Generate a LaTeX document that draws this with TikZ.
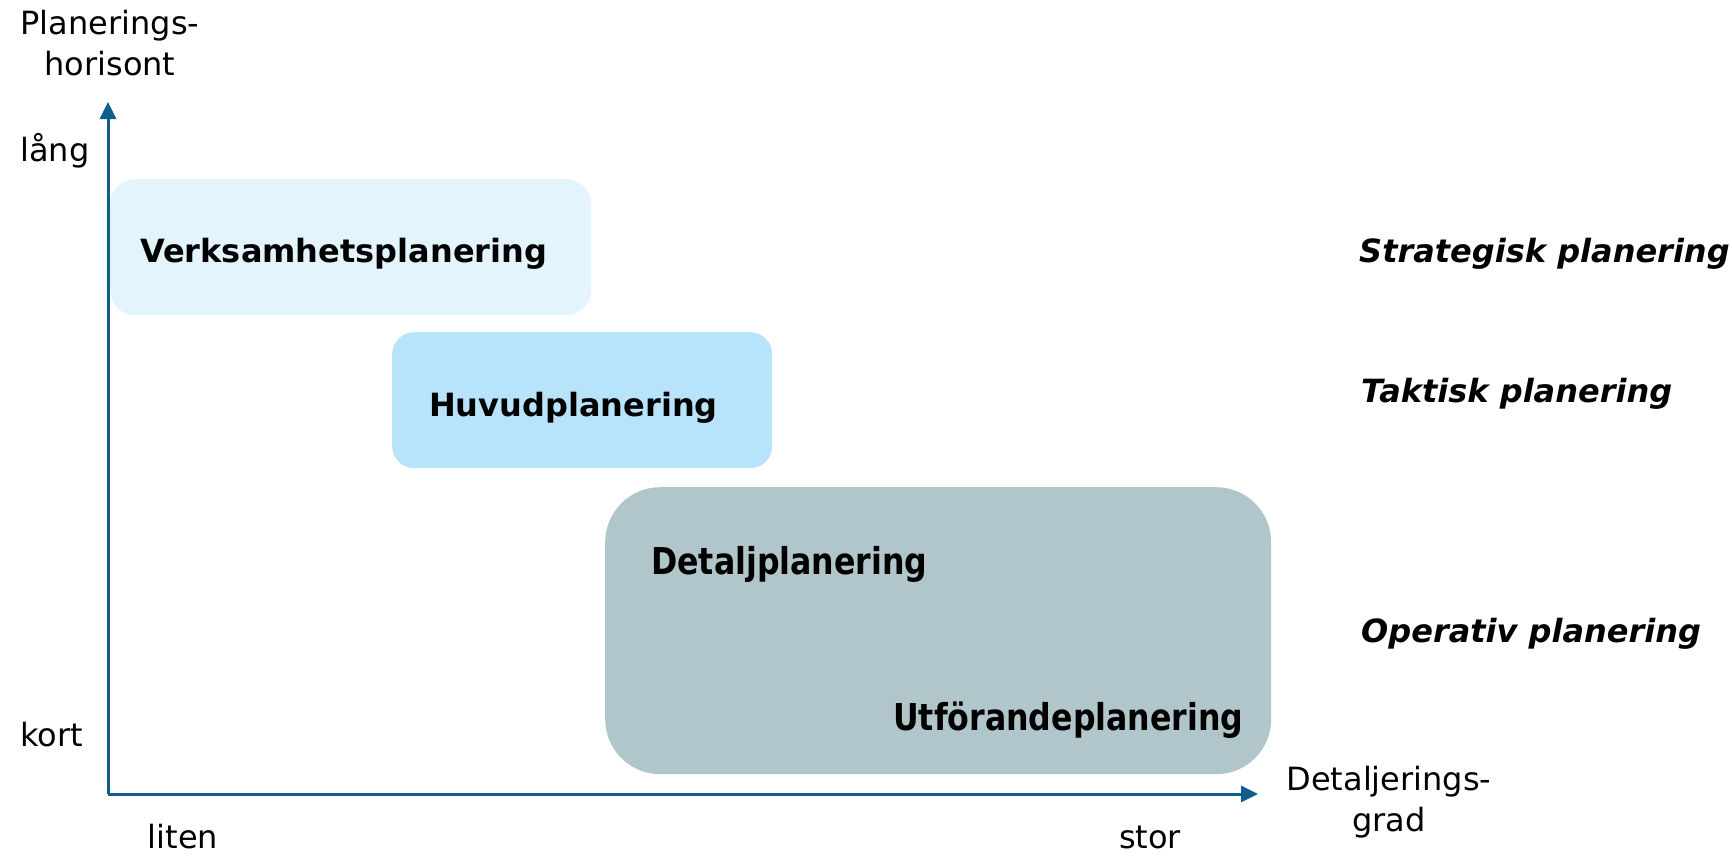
\documentclass[tikz,border=0pt]{standalone}
\usepackage{fontspec}
\setmainfont{DejaVu Sans}
\newfontfamily\condbold{DejaVu Sans Bold}[FakeStretch=0.855]
\usetikzlibrary{arrows.meta}
\definecolor{axiscol}{RGB}{16,94,140}
\definecolor{boxA}{RGB}{227,244,252}
\definecolor{boxB}{RGB}{183,228,251}
\definecolor{boxC}{RGB}{176,198,202}
\tikzset{
  axisline/.style={draw=axiscol,line width=3pt,-{Triangle[width=16pt,length=17pt]}},
  plainlbl/.style={font=\fontsize{32}{41}\selectfont,inner sep=0pt,align=center},
  boldlbl/.style={font=\fontsize{32}{38}\selectfont\bfseries,inner sep=0pt,anchor=base west},
  condlbl/.style={font=\fontsize{37}{42}\condbold,inner sep=0pt,anchor=base west},
  levellbl/.style={font=\fontsize{32}{38}\selectfont\bfseries\itshape,inner sep=0pt,anchor=base west},
  planbox/.style={rounded corners=#1,draw=none,inner sep=0pt,anchor=north west}
}
\begin{document}
\begin{tikzpicture}[x=1pt,y=-1pt]
\useasboundingbox (0,0) rectangle (1732,855);
% boxes
\node[planbox=25pt,fill=boxA,minimum width=481pt,minimum height=136pt] (b1) at (110,179) {};
\node[planbox=22pt,fill=boxB,minimum width=380pt,minimum height=136pt] (b2) at (392,332) {};
\node[planbox=55pt,fill=boxC,minimum width=666pt,minimum height=287pt] (b3) at (605,487) {};
% axes
\coordinate (O) at (108,794);
\coordinate (ytip) at (108,102);
\coordinate (xtip) at (1258,794);
\draw[axisline] (O) -- (ytip);
\draw[axisline] (O) -- (xtip);
% box texts
\node[boldlbl] (t1) at (140,262) {Verksamhetsplanering};
\node[boldlbl] (t2) at (429,416) {Huvudplanering};
\node[condlbl] (t3) at (651,574) {Detaljplanering};
\node[condlbl] (t4) at (893,730) {Utförandeplanering};
% level labels
\node[levellbl] (s1) at (1359,262) {Strategisk planering};
\node[levellbl] (s2) at (1361,402) {Taktisk planering};
\node[levellbl] (s3) at (1361,642) {Operativ planering};
% axis labels
\node[plainlbl] (yl) at (110,43) {Planerings-\\horisont};
\node[plainlbl,anchor=west] (lang) at (20,151) {lång};
\node[plainlbl,anchor=west] (kort) at (20,735) {kort};
\node[plainlbl] (liten) at (183,837) {liten};
\node[plainlbl] (stor) at (1150,837) {stor};
\node[plainlbl] (xl) at (1389,802) {Detaljerings-\\grad};
\end{tikzpicture}
\end{document}
